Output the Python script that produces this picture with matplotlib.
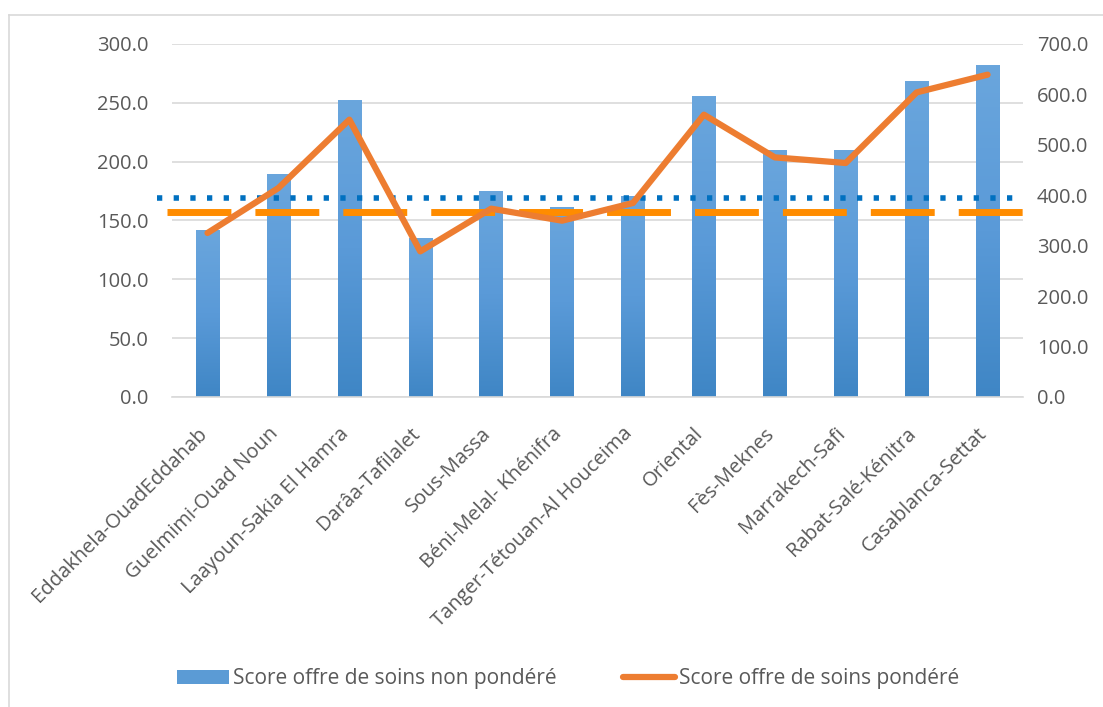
import matplotlib
matplotlib.use("Agg")
import matplotlib.pyplot as plt
import numpy as np
from matplotlib.lines import Line2D
from matplotlib.patches import Patch
from matplotlib.colors import LinearSegmentedColormap

regions = ["Eddakhela-OuadEddahab", "Guelmimi-Ouad Noun", "Laayoun-Sakia El Hamra",
           "Darâa-Tafilalet", "Sous-Massa", "Béni-Melal- Khénifra",
           "Tanger-Tétouan-Al Houceima", "Oriental", "Fès-Meknes", "Marrakech-Safi",
           "Rabat-Salé-Kénitra", "Casablanca-Settat"]
score_non_pondere = [141.3, 189.5, 251.8, 134.5, 174.5, 160.9, 170.0, 255.2, 209.3, 209.3, 268.0, 281.6]
score_pondere = [325.2, 414.4, 549.9, 288.7, 373.4, 349.6, 384.7, 559.8, 475.1, 464.0, 604.0, 639.1]
ref_non_pondere = 169.1   # dotted blue line (left axis)
ref_pondere = 366.1       # dashed orange line (right axis)
left_ticks = [0, 50, 100, 150, 200, 250, 300]
right_ticks = [0, 100, 200, 300, 400, 500, 600, 700]

plt.rcParams['font.family'] = ['Open Sans', 'DejaVu Sans']
txt = '#595959'

fig = plt.figure(figsize=(11.03, 7.07), dpi=100)
ax = fig.add_axes([0.156, 0.4385, 0.7715, 0.4993])
ax2 = ax.twinx()

x = np.arange(len(regions))
w = 0.33
grad = np.linspace(0, 1, 256).reshape(-1, 1)
cmap = LinearSegmentedColormap.from_list('b', ['#6aa6dd', '#5a9ad8', '#3f86c5'])
for xi, h in zip(x, score_non_pondere):
    ax.imshow(grad, extent=[xi - w/2, xi + w/2, 0, h], aspect='auto', cmap=cmap,
              origin='upper', zorder=2)

ax.set_xlim(-0.5, len(regions) - 0.5)
ax.set_ylim(0, 300)
ax2.set_ylim(0, 700)
ax.set_yticks(left_ticks)
ax.set_yticklabels([f"{v:.1f}" for v in left_ticks])
ax2.set_yticks(right_ticks)
ax2.set_yticklabels([f"{v:.1f}" for v in right_ticks])
ax.grid(axis='y', color='#d9d9d9', linewidth=1.2, zorder=0)
ax.set_axisbelow(True)
for a in (ax, ax2):
    for s in a.spines.values():
        s.set_visible(False)
    a.tick_params(length=0, labelsize=14.5, labelcolor=txt)
ax.tick_params(axis='y', pad=17)
ax2.tick_params(axis='y', pad=10)
ax.spines['bottom'].set_visible(True)
ax.spines['bottom'].set_color('#d9d9d9')
ax.spines['bottom'].set_linewidth(1.2)

ax.set_xticks(x)
ax.set_xticklabels(regions, rotation=45, ha='right', va='baseline', rotation_mode='anchor')
ax.tick_params(axis='x', pad=27, labelsize=14.5)

# reference lines
ax.plot([-0.71, 11.5], [ref_non_pondere] * 2, color='#0070c0', linewidth=4,
        linestyle=(0, (0.95, 2.05)), dash_capstyle='butt', zorder=4, clip_on=False)
ax2.plot([-0.57, 11.5], [ref_pondere] * 2, color='#ff8c00', linewidth=5,
         linestyle=(0, (9.2, 3.46)), dash_capstyle='butt', zorder=4, clip_on=False)

ax2.plot(x, score_pondere, color='#ed7d31', linewidth=4.5, solid_joinstyle='round',
         solid_capstyle='round', zorder=5)
ax.set_zorder(1)
ax2.set_zorder(2)
ax2.patch.set_visible(False)

handles = [Patch(facecolor='#5b9bd5', edgecolor='none', label='Score offre de soins non pondéré'),
           Line2D([0], [0], color='#ed7d31', linewidth=4.5, solid_capstyle='round',
                  label='Score offre de soins pondéré')]
fig.legend(handles=handles, loc='center', bbox_to_anchor=(0.515, 0.04), ncol=2, frameon=False,
           fontsize=15, labelcolor=txt, handlelength=2.5, handleheight=0.65,
           handletextpad=0.2, columnspacing=3.2)

# chart frame (left and top edges visible)
fig.add_artist(Line2D([0.0085, 0.0085], [0.0, 0.979], transform=fig.transFigure,
                      color='#d9d9d9', linewidth=1.2))
fig.add_artist(Line2D([0.0085, 1.0], [0.979, 0.979], transform=fig.transFigure,
                      color='#d9d9d9', linewidth=1.2))

fig.savefig('out.png', dpi=100)
